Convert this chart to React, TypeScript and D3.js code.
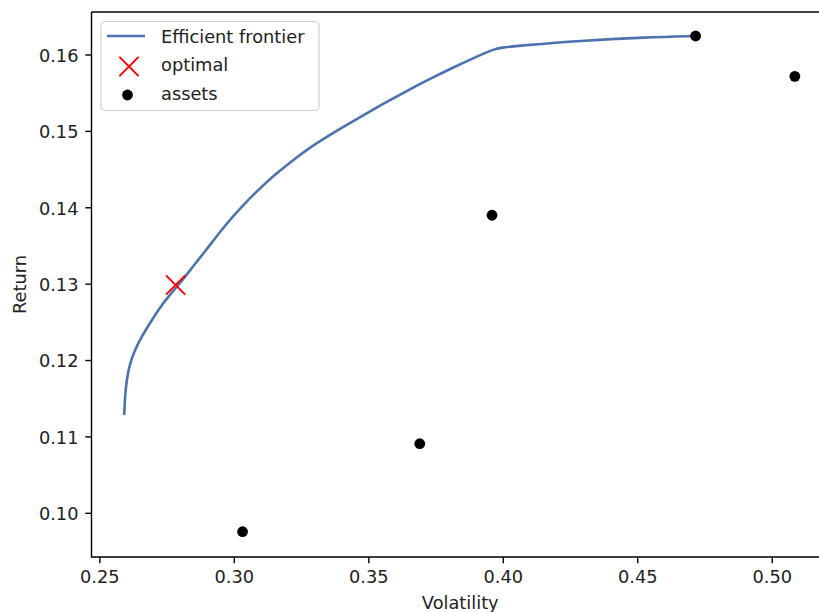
import React, { useEffect, useRef } from "react";
import * as d3 from "d3";

// frontier (volatility, return)
const frontierVol = [
  0.25907, 0.25933, 0.25996, 0.26118, 0.26304, 0.26553, 0.26862, 0.2717, 0.27542, 0.27976,
  0.28411, 0.28905, 0.29712, 0.30328, 0.30949, 0.3157, 0.32186, 0.32807, 0.33427, 0.34044,
  0.34914, 0.35531, 0.36151, 0.36772, 0.37388, 0.38009, 0.3863, 0.39246, 0.39618, 0.39989,
  0.4061, 0.4284, 0.45318, 0.4715,
];
const frontierRet = [
  0.11287, 0.11527, 0.11745, 0.11964, 0.12138, 0.12312, 0.12488, 0.12662, 0.12836, 0.13011,
  0.13208, 0.13425, 0.13797, 0.14036, 0.14255, 0.14451, 0.14625, 0.14789, 0.14927, 0.15058,
  0.15236, 0.1536, 0.1548, 0.15596, 0.15707, 0.15814, 0.15917, 0.16015, 0.16072, 0.16101,
  0.16122, 0.16188, 0.16232, 0.16249,
];

const assetVol = [0.30306, 0.36894, 0.39581, 0.4715, 0.5084];
const assetRet = [0.09759, 0.10911, 0.13902, 0.16249, 0.15721];

const optimalVol = [0.27817];
const optimalRet = [0.12989];

const xTicks = [0.25, 0.3, 0.35, 0.4, 0.45, 0.5];
const yTicks = [0.1, 0.11, 0.12, 0.13, 0.14, 0.15, 0.16];

const legendLabels = ["Efficient frontier", "optimal", "assets"];

const W = 819;
const H = 612;
const FONT = "DejaVu Sans, sans-serif";
const FS = 17.8;

const App = () => {
  const ref = useRef<SVGSVGElement>(null);

  useEffect(() => {
    const svg = d3.select(ref.current);
    svg.selectAll("*").remove();

    const left = 91.5, right = 829, top = 12, bottom = 557;
    const x = d3.scaleLinear().domain([0.2469, 0.5211]).range([left, right]);
    const y = d3.scaleLinear().domain([0.09428, 0.16563]).range([bottom, top]);

    svg.append("rect").attr("width", W).attr("height", H).attr("fill", "white");

    // frontier line
    const pts = frontierVol.map((v, i) => [v, frontierRet[i]] as [number, number]);
    const line = d3.line<[number, number]>()
      .x(d => x(d[0]))
      .y(d => y(d[1]))
      .curve(d3.curveBasis);
    svg.append("path")
      .attr("d", line(pts))
      .attr("fill", "none")
      .attr("stroke", "#4C72B0")
      .attr("stroke-width", 2.6);

    // optimal marker
    const xm = 9.6;
    optimalVol.forEach((v, i) => {
      const cx = x(v), cy = y(optimalRet[i]);
      svg.append("path")
        .attr("d", `M${cx - xm},${cy - xm}L${cx + xm},${cy + xm}M${cx - xm},${cy + xm}L${cx + xm},${cy - xm}`)
        .attr("stroke", "red")
        .attr("stroke-width", 2);
    });

    // assets
    svg.append("g")
      .selectAll("circle")
      .data(assetVol.map((v, i) => [v, assetRet[i]]))
      .join("circle")
      .attr("cx", d => x(d[0]))
      .attr("cy", d => y(d[1]))
      .attr("r", 5.4)
      .attr("fill", "black");

    // spines
    const spine = svg.append("g").attr("stroke", "black").attr("stroke-width", 1.4).attr("fill", "none");
    spine.append("path").attr("d", `M${left},${top}V${bottom}H${right}`);
    spine.append("path").attr("d", `M${left},${top}H${right}`);

    // x ticks
    const gx = svg.append("g");
    xTicks.forEach(t => {
      gx.append("line").attr("x1", x(t)).attr("x2", x(t)).attr("y1", bottom).attr("y2", bottom + 6.2)
        .attr("stroke", "black").attr("stroke-width", 1.4);
      gx.append("text").attr("x", x(t)).attr("y", bottom + 26).attr("text-anchor", "middle")
        .style("font-family", FONT).style("font-size", FS + "px").attr("fill", "#222")
        .text(d3.format(".2f")(t));
    });

    // y ticks
    const gy = svg.append("g");
    yTicks.forEach(t => {
      gy.append("line").attr("x1", left - 6.2).attr("x2", left).attr("y1", y(t)).attr("y2", y(t))
        .attr("stroke", "black").attr("stroke-width", 1.4);
      gy.append("text").attr("x", left - 13).attr("y", y(t) + 6.8).attr("text-anchor", "end")
        .style("font-family", FONT).style("font-size", FS + "px").attr("fill", "#222")
        .text(d3.format(".2f")(t));
    });

    // axis labels
    svg.append("text").attr("x", (left + right) / 2).attr("y", 609).attr("text-anchor", "middle")
      .style("font-family", FONT).style("font-size", FS + "px").attr("fill", "#222").text("Volatility");
    svg.append("text").attr("transform", `translate(25.5,${(top + bottom) / 2}) rotate(-90)`)
      .attr("text-anchor", "middle")
      .style("font-family", FONT).style("font-size", FS + "px").attr("fill", "#222").text("Return");

    // legend
    const lg = svg.append("g");
    lg.append("rect").attr("x", 101).attr("y", 21.5).attr("width", 218).attr("height", 89)
      .attr("rx", 4).attr("fill", "white").attr("fill-opacity", 0.8)
      .attr("stroke", "#d0d0d0").attr("stroke-width", 1.2);
    const rowY = [36, 64.5, 93];
    lg.append("line").attr("x1", 107).attr("x2", 145).attr("y1", rowY[0]).attr("y2", rowY[0])
      .attr("stroke", "#4C72B0").attr("stroke-width", 2.6);
    const lx = 129, ly = rowY[1] + 2;
    lg.append("path")
      .attr("d", `M${lx - xm},${ly - xm}L${lx + xm},${ly + xm}M${lx - xm},${ly + xm}L${lx + xm},${ly - xm}`)
      .attr("stroke", "red").attr("stroke-width", 2);
    lg.append("circle").attr("cx", 127.5).attr("cy", rowY[2] + 2).attr("r", 5.4).attr("fill", "black");
    legendLabels.forEach((s, i) => {
      lg.append("text").attr("x", 161).attr("y", rowY[i] + 6.5)
        .style("font-family", FONT).style("font-size", FS + "px").attr("fill", "#222").text(s);
    });
  }, []);

  return (
    <svg ref={ref} width={W} height={H} style={{ position: "absolute", left: 0, top: 0 }} />
  );
};

export default App;
